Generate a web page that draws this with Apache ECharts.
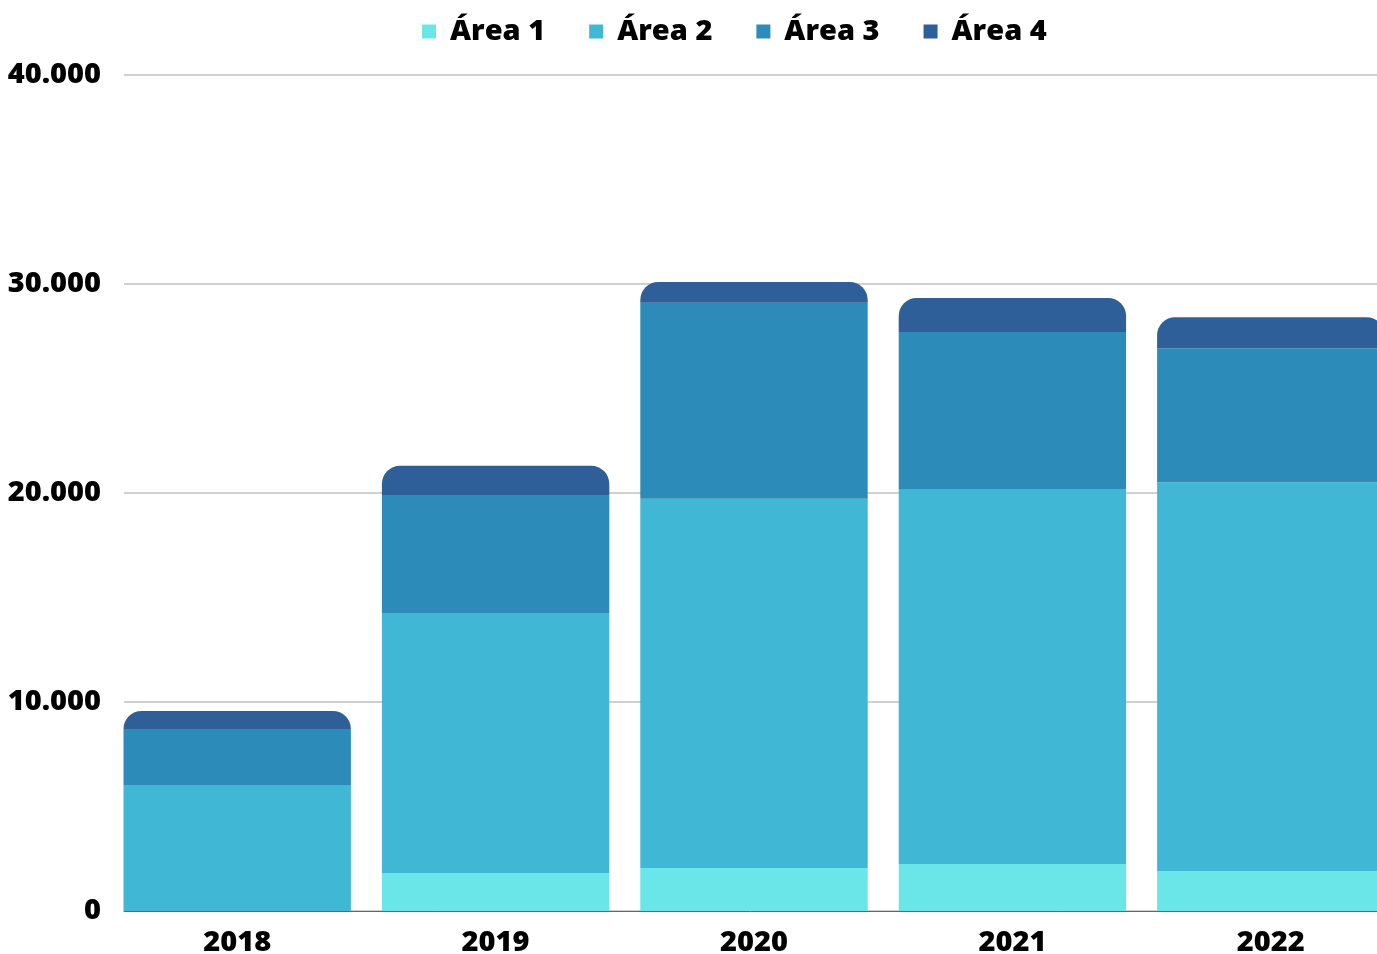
<!DOCTYPE html>
<html>
<head>
<meta charset="utf-8">
<script src="https://cdn.jsdelivr.net/npm/echarts@6/dist/echarts.min.js"></script>
<style>
html,body{margin:0;padding:0;background:#fff;}
#chart{width:1377px;height:954px;}
</style>
</head>
<body>
<div id="chart"></div>
<script>
const years = ['2018', '2019', '2020', '2021', '2022'];
const seriesNames = ['Área 1', 'Área 2', 'Área 3', 'Área 4'];
const area1 = [0, 1820, 2060, 2250, 1910];
const area2 = [6030, 12440, 17660, 17940, 18610];
const area3 = [2680, 5650, 9380, 7510, 6410];
const area4 = [860, 1390, 1000, 1630, 1480];
const colors = ['#6ae6e9', '#41b7d6', '#2c8bb9', '#2e5f99'];
const yMin = 0, yMax = 40000, yStep = 10000;

const font = '"Open Sans", "DejaVu Sans", sans-serif';
const allData = [area1, area2, area3, area4];

const chart = echarts.init(document.getElementById('chart'));
chart.setOption({
  animation: false,
  color: colors,
  legend: {
    top: 12,
    left: 417,
    itemWidth: 14,
    itemHeight: 14,
    itemGap: 44,
    icon: 'rect',
    textStyle: { fontFamily: font, fontSize: 29, fontWeight: 800, color: '#000', padding: [0, 0, 0, 9] },
    data: seriesNames
  },
  grid: [
    { left: 108, width: 1292, top: 75, height: 836, containLabel: false, outerBoundsMode: 'none' },
    { left: 124, width: 1253, top: 75, height: 836, containLabel: false, outerBoundsMode: 'none' }
  ],
  xAxis: [
    {
      gridIndex: 0,
      type: 'category',
      data: years,
      axisTick: { show: false },
      axisLine: { show: false },
      axisLabel: { fontFamily: font, fontSize: 29, fontWeight: 800, color: '#000', margin: 17 }
    },
    {
      gridIndex: 1,
      type: 'value', min: 0, max: 1,
      axisTick: { show: false },
      axisLabel: { show: false },
      splitLine: { show: false },
      axisLine: { show: true, lineStyle: { color: '#666', width: 1 } }
    }
  ],
  yAxis: [
    {
      gridIndex: 0,
      type: 'value',
      min: yMin, max: yMax, interval: yStep,
      axisLine: { show: false },
      axisTick: { show: false },
      splitLine: { show: false },
      axisLabel: {
        fontFamily: font, fontSize: 29, fontWeight: 800, color: '#000', margin: 7, padding: [5, 0, 0, 0],
        formatter: v => String(v).replace(/\B(?=(\d{3})+(?!\d))/g, '.')
      }
    },
    {
      gridIndex: 1,
      type: 'value',
      min: yMin, max: yMax, interval: yStep,
      axisLine: { show: false },
      axisTick: { show: false },
      axisLabel: { show: false },
      splitLine: { lineStyle: { color: '#c0c0c0', width: 1.5 } }
    }
  ],
  series: seriesNames.map((name, i) => ({
    name,
    type: 'bar',
    stack: 'total',
    xAxisIndex: 0,
    yAxisIndex: 0,
    barCategoryGap: '12%',
    data: allData[i],
    itemStyle: { color: colors[i], borderRadius: i === 3 ? [18, 18, 0, 0] : 0 }
  }))
});
</script>
</body>
</html>
